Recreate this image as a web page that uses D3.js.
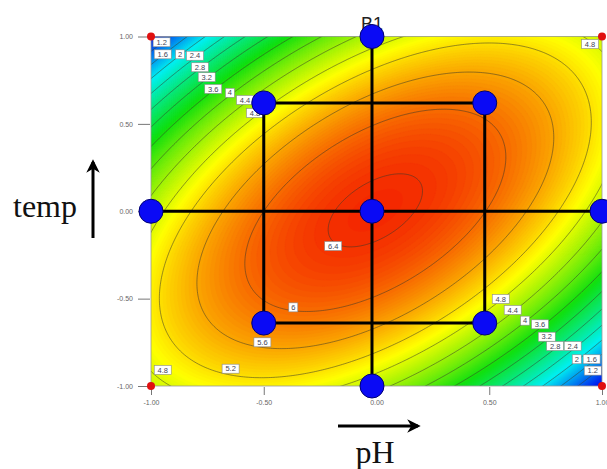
<!DOCTYPE html>
<html>
<head>
<meta charset="utf-8">
<script src="https://cdn.jsdelivr.net/npm/d3@7"></script>
<style>
  body { margin: 0; background: #fff; }
  svg { display: block; }
</style>
</head>
<body>
<div id="chart-area"></div>
<script>
// fitted surface: b0, A, B, AB, A^2, B^2
const coefs = [6.46, -0.03, 0.03, 2.0, -1.9, -1.9]
const contourLevels = [1.2, 1.6, 2, 2.4, 2.8, 3.2, 3.6, 4, 4.4, 4.8, 5.2, 5.6, 6, 6.4]
const tickValues = [-1, -0.5, 0, 0.5, 1]
const tickLabels = ["-1.00", "-0.50", "0.00", "0.50", "1.00"]

// design points
const axialX = [-1, 1, -0.02, -0.02, -0.02]
const axialY = [0, 0, 1, -1, 0]
const factX = [-0.5, 0.48, 0.48, -0.5]
const factY = [0.62, 0.62, -0.64, -0.64]
const cornerX = [-1, 1, -1, 1]
const cornerY = [1, 1, -1, -1]

// contour labels
const labelText = ["1.2", "1.6", "2", "2.4", "2.8", "3.2", "3.6", "4", "4.4", "4.8",
  "4.8", "4.4", "4", "3.6", "3.2", "2.8", "2.4", "2", "1.6", "1.2",
  "6.4", "6", "5.6", "5.2", "4.8", "4.8"]
const labelX = [-0.953, -0.948, -0.871, -0.805, -0.783, -0.753, -0.724, -0.650, -0.583, -0.539,
  0.551, 0.604, 0.659, 0.725, 0.755, 0.792, 0.870, 0.888, 0.954, 0.959,
  -0.192, -0.369, -0.506, -0.647, -0.948, 0.947]
const labelY = [0.967, 0.898, 0.898, 0.890, 0.824, 0.767, 0.700, 0.678, 0.637, 0.562,
  -0.502, -0.565, -0.626, -0.647, -0.718, -0.771, -0.771, -0.847, -0.847, -0.912,
  -0.199, -0.550, -0.750, -0.901, -0.908, 0.957]

const WIDTH = 607
const HEIGHT = 469
const PLOT = { LEFT: 151, RIGHT: 602, TOP: 36.5, BOTTOM: 386 }

const surface = (a, b) => coefs[0] + coefs[1] * a + coefs[2] * b + coefs[3] * a * b +
  coefs[4] * a * a + coefs[5] * b * b

const svg = d3.select("#chart-area").append("svg")
  .attr("width", WIDTH)
  .attr("height", HEIGHT)

const x = d3.scaleLinear().domain([-1, 1]).range([PLOT.LEFT, PLOT.RIGHT])
const y = d3.scaleLinear().domain([-1, 1]).range([PLOT.BOTTOM, PLOT.TOP])

// grid a bit larger than the plot so contour rings close outside the clip
const step = 0.01
const g0 = -1.1
const n = 221
const values = new Array(n * n)
for (let j = 0; j < n; j++) {
  for (let i = 0; i < n; i++) {
    values[j * n + i] = surface(g0 + i * step, g0 + j * step)
  }
}

let vmin = Infinity, vmax = -Infinity
for (let j = 0; j < n; j++) {
  for (let i = 0; i < n; i++) {
    const a = g0 + i * step, b = g0 + j * step
    if (a < -1.0001 || a > 1.0001 || b < -1.0001 || b > 1.0001) continue
    const v = values[j * n + i]
    if (v < vmin) vmin = v
    if (v > vmax) vmax = v
  }
}

const color = d3.scaleLinear()
  .domain(d3.range(5).map(k => vmin + (vmax - vmin) * k / 4))
  .range(["#0000f0", "#00f0f0", "#10e010", "#ffff00", "#f42800"])
  .clamp(true)

const proj = d3.geoTransform({
  point(px, py) {
    this.stream.point(x(g0 + (px - 0.5) * step), y(g0 + (py - 0.5) * step))
  }
})
const path = d3.geoPath(proj)

svg.append("clipPath").attr("id", "plot-clip")
  .append("rect")
  .attr("x", PLOT.LEFT).attr("y", PLOT.TOP)
  .attr("width", PLOT.RIGHT - PLOT.LEFT)
  .attr("height", PLOT.BOTTOM - PLOT.TOP)

const plot = svg.append("g").attr("clip-path", "url(#plot-clip)")

// filled colour bands
const fillStep = 0.04
const fillThresholds = d3.range(vmin - fillStep, vmax + fillStep, fillStep)
const bands = d3.contours().size([n, n]).thresholds(fillThresholds)(values)
plot.selectAll("path.band")
  .data(bands)
  .enter().append("path")
  .attr("class", "band")
  .attr("d", path)
  .attr("fill", d => color(d.value + fillStep / 2))
  .attr("stroke", d => color(d.value + fillStep / 2))
  .attr("stroke-width", 0.3)

// contour lines
const lines = d3.contours().size([n, n]).thresholds(contourLevels)(values)
plot.selectAll("path.iso")
  .data(lines)
  .enter().append("path")
  .attr("class", "iso")
  .attr("d", path)
  .attr("fill", "none")
  .attr("stroke", "#3a3a2a")
  .attr("stroke-opacity", 0.75)
  .attr("stroke-width", 0.7)

// plot border
svg.append("rect")
  .attr("x", PLOT.LEFT).attr("y", PLOT.TOP)
  .attr("width", PLOT.RIGHT - PLOT.LEFT)
  .attr("height", PLOT.BOTTOM - PLOT.TOP)
  .attr("fill", "none")
  .attr("stroke", "#9a9a9a")
  .attr("stroke-width", 0.8)

// contour labels
const labels = svg.append("g")
labelText.forEach((t, k) => {
  const w = t.length * 4 + 5
  const lg = labels.append("g")
    .attr("transform", `translate(${x(labelX[k])}, ${y(labelY[k])})`)
  lg.append("rect")
    .attr("x", -w / 2).attr("y", -4.5)
    .attr("width", w).attr("height", 9)
    .attr("fill", "#fff")
    .attr("stroke", "#8a8a8a")
    .attr("stroke-width", 0.6)
  lg.append("text")
    .attr("text-anchor", "middle")
    .attr("dy", "0.35em")
    .attr("font-family", "Liberation Sans, Arial, sans-serif")
    .attr("font-size", "7.5px")
    .attr("fill", "#445")
    .text(t)
})

// axes
const xAxisCall = d3.axisBottom(x)
  .tickValues(tickValues)
  .tickFormat((d, i) => tickLabels[i])
  .tickSize(8)
  .tickSizeOuter(0)
  .tickPadding(5)
const xg = svg.append("g")
  .attr("transform", `translate(0, ${PLOT.BOTTOM + 1})`)
  .call(xAxisCall)
  .attr("color", "#777")
xg.select(".domain").remove()
xg.selectAll("text")
  .attr("font-size", "7px")
  .attr("font-family", "Liberation Sans, Arial, sans-serif")
  .attr("fill", "#666")

const yAxisCall = d3.axisLeft(y)
  .tickValues(tickValues)
  .tickFormat((d, i) => tickLabels[i])
  .tickSize(12)
  .tickSizeOuter(0)
  .tickPadding(5)
const yg = svg.append("g")
  .attr("transform", `translate(${PLOT.LEFT - 1}, 0)`)
  .call(yAxisCall)
  .attr("color", "#777")
yg.select(".domain").remove()
yg.selectAll("text")
  .attr("font-size", "7px")
  .attr("font-family", "Liberation Sans, Arial, sans-serif")
  .attr("fill", "#666")

// red corner markers
svg.selectAll("circle.corner")
  .data(cornerX)
  .enter().append("circle")
  .attr("class", "corner")
  .attr("cx", d => x(d))
  .attr("cy", (d, i) => y(cornerY[i]))
  .attr("r", 4)
  .attr("fill", "#e01010")

// B1 label
svg.append("text")
  .attr("x", x(axialX[2]))
  .attr("y", 30)
  .attr("text-anchor", "middle")
  .attr("font-family", "Liberation Sans, Arial, sans-serif")
  .attr("font-size", "18px")
  .attr("fill", "#222")
  .text("B1")

// design lines
const line = d3.line().x(d => x(d[0])).y(d => y(d[1]))
const designLines = svg.append("g")
  .attr("fill", "none")
  .attr("stroke", "#000")
  .attr("stroke-width", 3)
designLines.append("path")
  .attr("d", line([[axialX[0], axialY[0]], [axialX[1], axialY[1]]]))
designLines.append("path")
  .attr("d", line([[axialX[2], axialY[2]], [axialX[3], axialY[3]]]))
designLines.append("path")
  .attr("d", line(factX.map((d, i) => [d, factY[i]])) + "Z")

// design points
const pts = axialX.map((d, i) => [d, axialY[i]]).concat(factX.map((d, i) => [d, factY[i]]))
svg.selectAll("circle.pt")
  .data(pts)
  .enter().append("circle")
  .attr("class", "pt")
  .attr("cx", d => x(d[0]))
  .attr("cy", d => y(d[1]))
  .attr("r", 12)
  .attr("fill", "#0a0af5")
  .attr("stroke", "#000070")
  .attr("stroke-width", 1)

// axis titles with arrows
svg.append("defs").append("marker")
  .attr("id", "arrow")
  .attr("viewBox", "0 0 10 10")
  .attr("refX", 8).attr("refY", 5)
  .attr("markerWidth", 4.5).attr("markerHeight", 4.5)
  .attr("orient", "auto")
  .append("path")
  .attr("d", "M0,0 L10,5 L0,10 L3,5 Z")
  .attr("fill", "#000")

svg.append("line")
  .attr("x1", 93).attr("y1", 238)
  .attr("x2", 93).attr("y2", 162)
  .attr("stroke", "#000").attr("stroke-width", 3)
  .attr("marker-end", "url(#arrow)")

svg.append("line")
  .attr("x1", 338).attr("y1", 426)
  .attr("x2", 418).attr("y2", 426)
  .attr("stroke", "#000").attr("stroke-width", 3)
  .attr("marker-end", "url(#arrow)")

svg.append("text")
  .attr("x", 13).attr("y", 217)
  .attr("font-family", "Liberation Serif, Times New Roman, serif")
  .attr("font-size", "32px")
  .attr("fill", "#111")
  .text("temp")

svg.append("text")
  .attr("x", 375).attr("y", 463)
  .attr("text-anchor", "middle")
  .attr("font-family", "Liberation Serif, Times New Roman, serif")
  .attr("font-size", "32px")
  .attr("fill", "#111")
  .text("pH")
</script>
</body>
</html>
